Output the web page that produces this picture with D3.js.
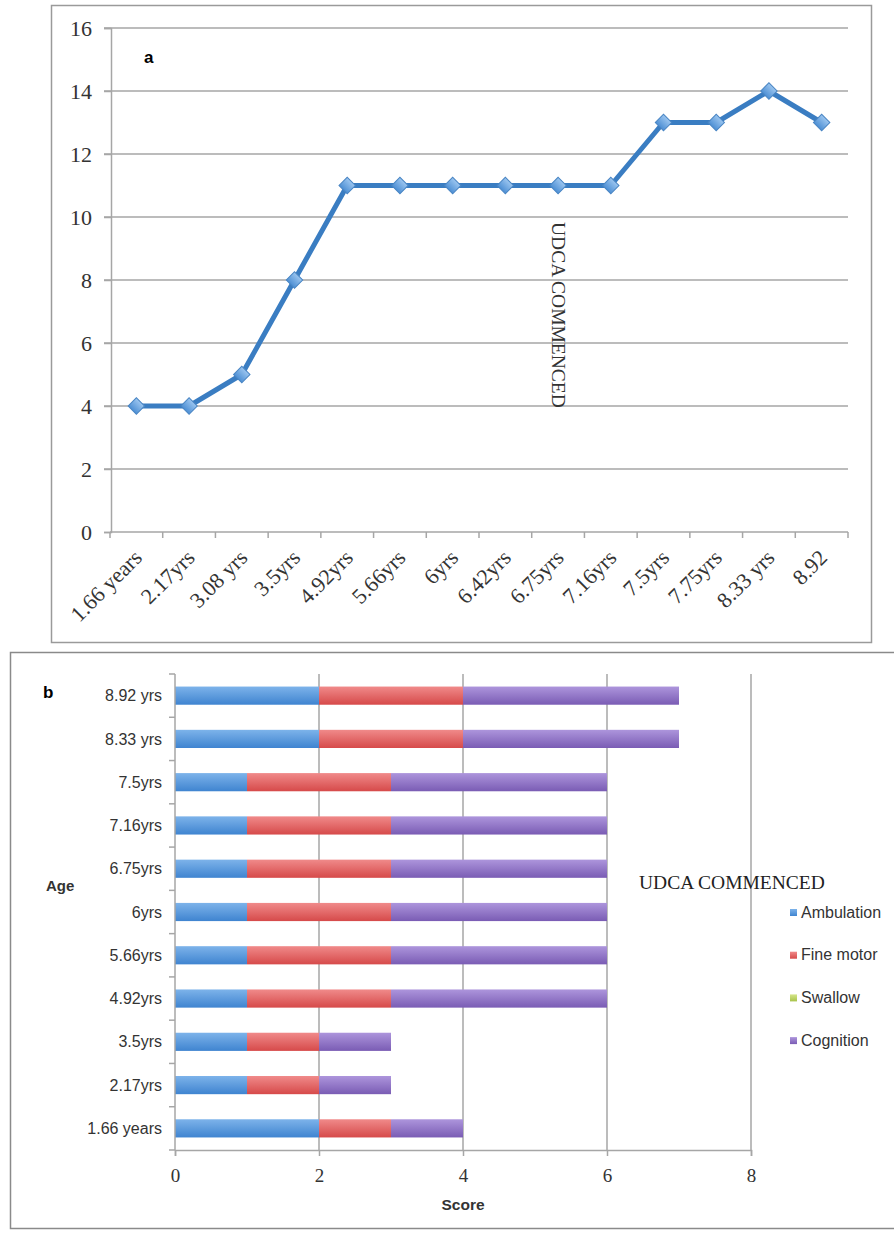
<!DOCTYPE html>
<html>
<head>
<meta charset="utf-8">
<script src="https://cdn.jsdelivr.net/npm/d3@7"></script>
<style>
  body { margin: 0; background: #fff; }
  svg { display: block; }
</style>
</head>
<body>
<svg id="chart" width="894" height="1236"></svg>
<script>
// ---- data: panel a (line) ----
var ageLabelsA = ["1.66 years", "2.17yrs", "3.08 yrs", "3.5yrs", "4.92yrs", "5.66yrs", "6yrs",
                  "6.42yrs", "6.75yrs", "7.16yrs", "7.5yrs", "7.75yrs", "8.33 yrs", "8.92"];
var scoreA = [4, 4, 5, 8, 11, 11, 11, 11, 11, 11, 13, 13, 14, 13];
var yTicksA = [0, 2, 4, 6, 8, 10, 12, 14, 16];

// ---- data: panel b (stacked bars), bottom to top ----
var ageLabelsB = ["1.66 years", "2.17yrs", "3.5yrs", "4.92yrs", "5.66yrs", "6yrs",
                  "6.75yrs", "7.16yrs", "7.5yrs", "8.33 yrs", "8.92 yrs"];
var seriesNames = ["Ambulation", "Fine motor", "Swallow", "Cognition"];
var ambulation = [2, 1, 1, 1, 1, 1, 1, 1, 1, 2, 2];
var fineMotor  = [1, 1, 1, 2, 2, 2, 2, 2, 2, 2, 2];
var swallow    = [0, 0, 0, 0, 0, 0, 0, 0, 0, 0, 0];
var cognition  = [1, 1, 1, 3, 3, 3, 3, 3, 3, 3, 3];
var xTicksB = [0, 2, 4, 6, 8];

var seriesColors = [["#7db3ea", "#3f84d0"], ["#f08a8a", "#d64a4a"], ["#d5e58a", "#a8c34a"], ["#ad95dc", "#7a5cb4"]];

var svg = d3.select("#chart");
var serif = "'Liberation Serif', serif";
var sans = "'Liberation Sans', Arial, sans-serif";
var gridColor = "#a6a6a6";
var textColor = "#333";

var defs = svg.append("defs");
seriesColors.forEach(function(c, i) {
  var g = defs.append("linearGradient").attr("id", "grad" + i)
    .attr("x1", 0).attr("y1", 0).attr("x2", 0).attr("y2", 1);
  g.append("stop").attr("offset", "0%").attr("stop-color", c[0]);
  g.append("stop").attr("offset", "100%").attr("stop-color", c[1]);
});
var mg = defs.append("linearGradient").attr("id", "markerGrad")
  .attr("x1", 0).attr("y1", 0).attr("x2", 0).attr("y2", 1);
mg.append("stop").attr("offset", "0%").attr("stop-color", "#9cc6f0");
mg.append("stop").attr("offset", "100%").attr("stop-color", "#4d8fd4");

// ================= panel a =================
svg.append("rect")
  .attr("x", 51.5).attr("y", 5.5).attr("width", 820).attr("height", 637)
  .attr("fill", "none").attr("stroke", "#9a9a9a").attr("stroke-width", 1.5);

var xA = d3.scaleBand().domain(ageLabelsA).range([110, 848]).padding(0);
var yA = d3.scaleLinear().domain([0, 16]).range([532, 28]);

var gA = svg.append("g");

// horizontal gridlines
gA.append("g").selectAll("line").data(yTicksA.filter(function(d) { return d > 0; })).enter().append("line")
  .attr("x1", 104).attr("x2", 848)
  .attr("y1", function(d) { return yA(d); }).attr("y2", function(d) { return yA(d); })
  .attr("stroke", gridColor).attr("stroke-width", 1.5);

// y axis
var yAxisA = gA.append("g")
  .attr("transform", "translate(111,0)")
  .call(d3.axisLeft(yA).tickValues(yTicksA).tickSize(7).tickPadding(12));
yAxisA.select(".domain").attr("stroke", gridColor).attr("stroke-width", 1.5);
yAxisA.selectAll(".tick line").attr("stroke", gridColor).attr("stroke-width", 1.5);
yAxisA.selectAll("text").style("font-family", serif).style("font-size", "22px").attr("fill", textColor);

// x axis (ticks between categories)
gA.append("line").attr("x1", 110).attr("x2", 848).attr("y1", yA(0)).attr("y2", yA(0))
  .attr("stroke", gridColor).attr("stroke-width", 1.5);
var bounds = ageLabelsA.map(function(d) { return xA(d); }).concat([xA.range()[1]]);
gA.append("g").selectAll("line").data(bounds).enter().append("line")
  .attr("x1", function(d) { return d; }).attr("x2", function(d) { return d; })
  .attr("y1", yA(0)).attr("y2", yA(0) + 6)
  .attr("stroke", gridColor).attr("stroke-width", 1.5);

gA.append("g").selectAll("text").data(ageLabelsA).enter().append("text")
  .attr("transform", function(d) {
    return "translate(" + (xA(d) + xA.bandwidth() / 2 + 7) + "," + (yA(0) + 27) + ") rotate(-45)";
  })
  .attr("text-anchor", "end")
  .style("font-family", serif).style("font-size", "22px").attr("fill", textColor)
  .text(function(d) { return d; });

// line
var lineA = d3.line()
  .x(function(d, i) { return xA(ageLabelsA[i]) + xA.bandwidth() / 2; })
  .y(function(d) { return yA(d); });
gA.append("path").datum(scoreA)
  .attr("d", lineA)
  .attr("fill", "none").attr("stroke", "#3a7dc2").attr("stroke-width", 5)
  .attr("stroke-linejoin", "round");

gA.append("g").selectAll("path").data(scoreA).enter().append("path")
  .attr("d", d3.symbol(d3.symbolSquare, 135))
  .attr("transform", function(d, i) {
    return "translate(" + (xA(ageLabelsA[i]) + xA.bandwidth() / 2) + "," + yA(d) + ") rotate(45)";
  })
  .attr("fill", "url(#markerGrad)").attr("stroke", "#4a86c4").attr("stroke-width", 1);

gA.append("text").attr("x", 144).attr("y", 63)
  .style("font-family", sans).style("font-size", "17px").style("font-weight", "bold")
  .text("a");

gA.append("text")
  .attr("transform", "translate(552,222) rotate(90)")
  .style("font-family", serif).style("font-size", "19.5px").attr("fill", textColor)
  .text("UDCA COMMENCED");

// ================= panel b =================
svg.append("rect")
  .attr("x", 10.5).attr("y", 652.5).attr("width", 900).attr("height", 576)
  .attr("fill", "none").attr("stroke", "#8a8a8a").attr("stroke-width", 1.5);

var xB = d3.scaleLinear().domain([0, 8]).range([175, 751]);
var yB = d3.scaleBand().domain(ageLabelsB.slice().reverse()).range([674, 1150]).padding(0);

var gB = svg.append("g");

// vertical gridlines
gB.append("g").selectAll("line").data(xTicksB.filter(function(d) { return d > 0; })).enter().append("line")
  .attr("x1", function(d) { return xB(d); }).attr("x2", function(d) { return xB(d); })
  .attr("y1", 674).attr("y2", 1150)
  .attr("stroke", gridColor).attr("stroke-width", 1.5);

// stacked bars
var rows = ageLabelsB.map(function(age, i) {
  return { age: age, "Ambulation": ambulation[i], "Fine motor": fineMotor[i],
           "Swallow": swallow[i], "Cognition": cognition[i] };
});
var stacked = d3.stack().keys(seriesNames)(rows);
var barH = yB.bandwidth() * 0.42;
gB.append("g").selectAll("g").data(stacked).enter().append("g")
    .attr("fill", function(d, i) { return "url(#grad" + i + ")"; })
  .selectAll("rect").data(function(d) { return d; }).enter().append("rect")
    .attr("x", function(d) { return xB(d[0]); })
    .attr("width", function(d) { return xB(d[1]) - xB(d[0]); })
    .attr("y", function(d) { return yB(d.data.age) + (yB.bandwidth() - barH) / 2; })
    .attr("height", barH);

// x axis
var xAxisB = gB.append("g")
  .attr("transform", "translate(0,1150)")
  .call(d3.axisBottom(xB).tickValues(xTicksB).tickSize(6).tickPadding(13));
xAxisB.select(".domain").attr("stroke", gridColor).attr("stroke-width", 1.5);
xAxisB.selectAll(".tick line").attr("stroke", gridColor).attr("stroke-width", 1.5);
xAxisB.selectAll("text").style("font-family", serif).style("font-size", "19px").attr("fill", textColor);

// y axis with ticks between categories
gB.append("line").attr("x1", 175).attr("x2", 175).attr("y1", 674).attr("y2", 1150)
  .attr("stroke", gridColor).attr("stroke-width", 1.5);
var boundsB = yB.domain().map(function(d) { return yB(d); }).concat([yB.range()[1]]);
gB.append("g").selectAll("line").data(boundsB).enter().append("line")
  .attr("x1", 169).attr("x2", 175)
  .attr("y1", function(d) { return d; }).attr("y2", function(d) { return d; })
  .attr("stroke", gridColor).attr("stroke-width", 1.5);
gB.append("g").selectAll("text").data(ageLabelsB).enter().append("text")
  .attr("x", 162).attr("y", function(d) { return yB(d) + yB.bandwidth() / 2; })
  .attr("dy", "0.35em").attr("text-anchor", "end")
  .style("font-family", sans).style("font-size", "16px").attr("fill", textColor)
  .text(function(d) { return d; });

// titles
gB.append("text").attr("x", 43).attr("y", 698)
  .style("font-family", sans).style("font-size", "17px").style("font-weight", "bold").text("b");
gB.append("text").attr("x", 46).attr("y", 891)
  .style("font-family", sans).style("font-size", "15px").style("font-weight", "bold").attr("fill", textColor)
  .text("Age");
gB.append("text").attr("x", 463).attr("y", 1210).attr("text-anchor", "middle")
  .style("font-family", sans).style("font-size", "15.5px").style("font-weight", "bold").attr("fill", textColor)
  .text("Score");
gB.append("text").attr("x", 639).attr("y", 889)
  .style("font-family", serif).style("font-size", "19.5px").attr("fill", "#222")
  .text("UDCA COMMENCED");

// legend
var legend = gB.append("g").selectAll("g").data(seriesNames).enter().append("g")
  .attr("transform", function(d, i) { return "translate(790," + (912 + i * 42.7) + ")"; });
legend.append("rect").attr("x", 0).attr("y", -3).attr("width", 7).attr("height", 7)
  .attr("fill", function(d, i) { return "url(#grad" + i + ")"; });
legend.append("text").attr("x", 11).attr("dy", "0.35em")
  .style("font-family", sans).style("font-size", "16px").attr("fill", textColor)
  .text(function(d) { return d; });
</script>
</body>
</html>
